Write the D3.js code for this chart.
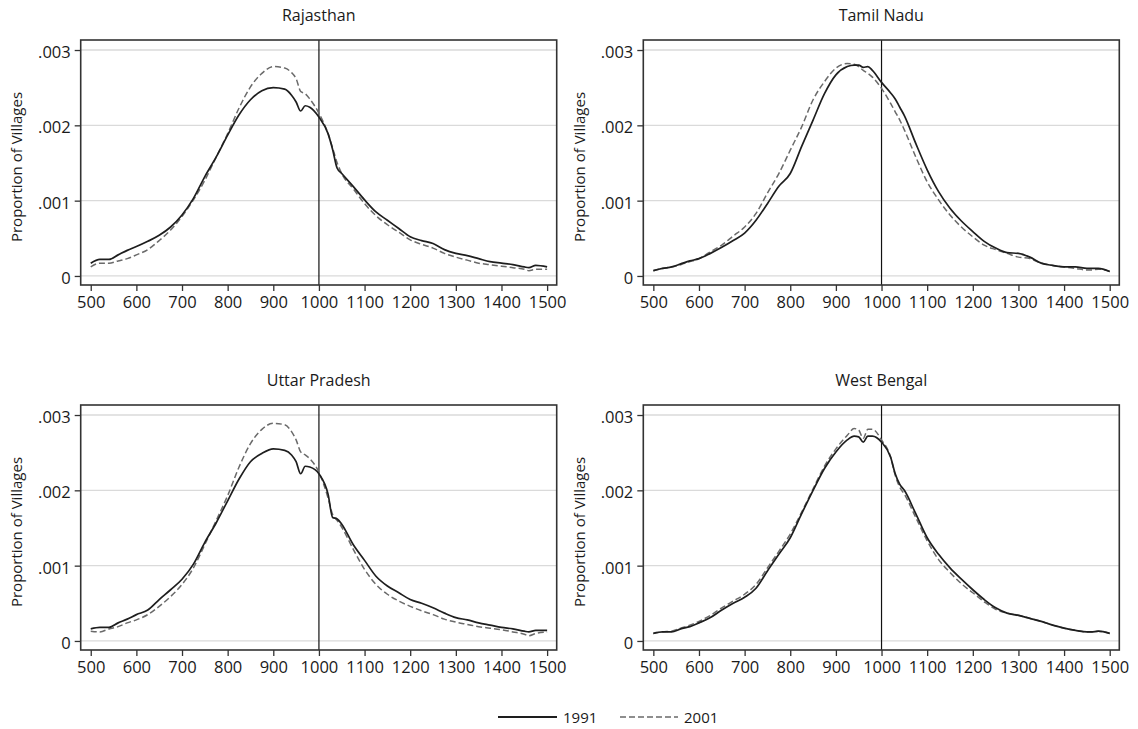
<!DOCTYPE html>
<html>
<head>
<meta charset="utf-8">
<script src="https://cdn.jsdelivr.net/npm/d3@7"></script>
<style>
  body { margin: 0; background: #fff; }
  svg { display: block; }
  text { font-family: "Open Sans", "Liberation Sans", sans-serif; fill: #1a1a1a; }
</style>
</head>
<body>
<div id="chart"></div>
<script>
// sex ratio grid (x values), shared by every panel
const sexRatio = [500, 520, 540, 560, 580, 600, 625, 650, 675, 700, 725, 750, 775, 800, 825, 850, 875, 900,
  925, 940, 950, 960, 970, 980, 1000, 1020, 1030, 1040, 1050, 1075, 1100, 1125, 1150, 1175, 1200, 1225,
  1250, 1275, 1300, 1325, 1350, 1375, 1400, 1425, 1450, 1460, 1475, 1500];

const states = ['Rajasthan', 'Tamil Nadu', 'Uttar Pradesh', 'West Bengal'];

const rajasthan1991 = [.00017, .00022, .00022, .00028, .00034, .00039, .00046, .00054, .00065, .00081, .00103, .00132,
  .00158, .00187, .00214, .00234, .00246, .00250, .00248, .00240, .00231, .00219, .00226, .00224, .00211, .00189,
  .00168, .00143, .00136, .00119, .00101, .00085, .00074, .00063, .00052, .00047, .00043, .00035, .00030, .00027,
  .00023, .00019, .00017, .00015, .00012, .00011, .00014, .00012];
const rajasthan2001 = [.00012, .00017, .00017, .00020, .00023, .00028, .00035, .00047, .00061, .00079, .00101, .00127,
  .00158, .00189, .00223, .00251, .00269, .00278, .00276, .00270, .00262, .00245, .00242, .00235, .00216, .00189,
  .00170, .00150, .00136, .00116, .00096, .00080, .00068, .00058, .00048, .00042, .00037, .00030, .00025, .00021,
  .00017, .00015, .00013, .00011, .00009, .00007, .00009, .00009];

const tamilNadu1991 = [.00007, .00010, .00012, .00016, .00020, .00023, .00030, .00038, .00047, .00057, .00074, .00096,
  .00119, .00136, .00172, .00207, .00242, .00267, .00278, .00280, .00280, .00277, .00278, .00273, .00257, .00243,
  .00235, .00224, .00213, .00176, .00141, .00112, .00090, .00073, .00059, .00046, .00037, .00031, .00030, .00025,
  .00017, .00014, .00012, .00012, .00010, .00010, .00010, .00006];
const tamilNadu2001 = [.00007, .00010, .00012, .00015, .00019, .00023, .00032, .00041, .00053, .00065, .00083, .00110,
  .00136, .00167, .00198, .00234, .00258, .00276, .00282, .00281, .00278, .00273, .00269, .00264, .00249, .00229,
  .00218, .00207, .00194, .00158, .00125, .00101, .00081, .00065, .00052, .00041, .00035, .00030, .00025, .00023,
  .00017, .00014, .00012, .00010, .00008, .00008, .00009, .00006];

const uttarPradesh1991 = [.00016, .00018, .00018, .00024, .00029, .00035, .00041, .00055, .00068, .00082, .00102, .00131,
  .00157, .00186, .00215, .00238, .00249, .00255, .00253, .00247, .00238, .00222, .00232, .00231, .00222, .00195,
  .00164, .00162, .00155, .00128, .00107, .00086, .00073, .00064, .00055, .00050, .00044, .00037, .00031, .00028,
  .00024, .00021, .00018, .00016, .00013, .00012, .00014, .00014];
const uttarPradesh2001 = [.00013, .00012, .00016, .00019, .00024, .00028, .00035, .00046, .00059, .00075, .00097, .00128,
  .00160, .00193, .00231, .00262, .00281, .00289, .00287, .00278, .00267, .00251, .00247, .00242, .00224, .00190,
  .00168, .00160, .00151, .00122, .00095, .00075, .00062, .00053, .00046, .00040, .00035, .00029, .00025, .00022,
  .00019, .00017, .00015, .00012, .00009, .00007, .00010, .00012];

const westBengal1991 = [.00010, .00012, .00012, .00016, .00019, .00024, .00031, .00041, .00050, .00058, .00070, .00093,
  .00115, .00137, .00169, .00200, .00229, .00251, .00267, .00272, .00271, .00264, .00272, .00272, .00264, .00244,
  .00222, .00208, .00200, .00169, .00137, .00115, .00097, .00082, .00068, .00055, .00044, .00037, .00034, .00030,
  .00026, .00021, .00017, .00014, .00012, .00012, .00013, .00010];
const westBengal2001 = [.00010, .00012, .00013, .00017, .00021, .00026, .00034, .00044, .00053, .00062, .00075, .00097,
  .00119, .00142, .00171, .00202, .00232, .00255, .00273, .00282, .00280, .00269, .00281, .00281, .00267, .00244,
  .00220, .00204, .00195, .00164, .00133, .00108, .00091, .00076, .00064, .00052, .00042, .00037, .00034, .00030,
  .00026, .00021, .00017, .00014, .00012, .00012, .00013, .00010];

const series1991 = [rajasthan1991, tamilNadu1991, uttarPradesh1991, westBengal1991];
const series2001 = [rajasthan2001, tamilNadu2001, uttarPradesh2001, westBengal2001];

const xTicks = [500, 600, 700, 800, 900, 1000, 1100, 1200, 1300, 1400, 1500];
const yTicks = [0, .001, .002, .003];
const legendLabels = ['1991', '2001'];

const width = 1138;
const height = 729;

// panel frames (left, top)
const panelW = 476;
const panelH = 245;
const frames = [
  { left: 80.7, top: 40 },
  { left: 643.3, top: 40 },
  { left: 80.7, top: 405 },
  { left: 643.3, top: 405 }
];

const svg = d3.select('#chart').append('svg')
  .attr('width', width)
  .attr('height', height);

const fmtY = d => d === 0 ? '0' : d3.format('.3f')(d).replace(/^0/, '');

states.forEach((name, i) => {
  const { left, top } = frames[i];
  const g = svg.append('g').attr('transform', `translate(${left},${top})`);

  const x = d3.scaleLinear().domain([478, 1521]).range([0, panelW]);
  const y = d3.scaleLinear().domain([-0.00012, 0.003133]).range([panelH, 0]);

  // gridlines
  g.selectAll('.grid')
    .data(yTicks)
    .join('line')
    .attr('x1', 0)
    .attr('x2', panelW)
    .attr('y1', d => y(d))
    .attr('y2', d => y(d))
    .attr('stroke', '#dadada')
    .attr('stroke-width', 1.3);

  // reference line at 1000
  g.append('line')
    .attr('x1', x(1000))
    .attr('x2', x(1000))
    .attr('y1', 0)
    .attr('y2', panelH)
    .attr('stroke', '#111')
    .attr('stroke-width', 1.2);

  const line = d3.line()
    .x((d, j) => x(sexRatio[j]))
    .y(d => y(d))
    .curve(d3.curveMonotoneX);

  g.append('path')
    .attr('d', line(series2001[i]))
    .attr('fill', 'none')
    .attr('stroke', '#6a6a6a')
    .attr('stroke-width', 1.5)
    .attr('stroke-dasharray', '6,3');

  g.append('path')
    .attr('d', line(series1991[i]))
    .attr('fill', 'none')
    .attr('stroke', '#1e1e1e')
    .attr('stroke-width', 1.7);

  // frame
  g.append('rect')
    .attr('width', panelW)
    .attr('height', panelH)
    .attr('fill', 'none')
    .attr('stroke', '#333')
    .attr('stroke-width', 1.6);

  const xAxis = g.append('g')
    .attr('transform', `translate(0,${panelH})`)
    .call(d3.axisBottom(x).tickValues(xTicks).tickFormat(d3.format('d')).tickSize(6).tickPadding(5));
  const yAxis = g.append('g')
    .call(d3.axisLeft(y).tickValues(yTicks).tickFormat(fmtY).tickSize(6).tickPadding(4));

  [xAxis, yAxis].forEach(ax => {
    ax.select('.domain').remove();
    ax.attr('font-family', null).attr('font-size', null);
    ax.selectAll('.tick line').attr('stroke', '#333').attr('stroke-width', 1.3);
    ax.selectAll('.tick text').style('font-size', '16.5px').attr('fill', '#1a1a1a');
  });
  yAxis.selectAll('.tick text').attr('dy', '0.45em');

  // panel title
  g.append('text')
    .attr('x', panelW / 2)
    .attr('y', -19.5)
    .attr('text-anchor', 'middle')
    .style('font-size', '16px')
    .text(name);

  // y axis title
  g.append('text')
    .attr('transform', `translate(${22 - 80.7},${127}) rotate(-90)`)
    .attr('text-anchor', 'middle')
    .style('font-size', '15px')
    .text('Proportion of Villages');
});

// legend
const legend = svg.append('g').attr('transform', 'translate(0,717)');
legend.append('line')
  .attr('x1', 498).attr('x2', 557)
  .attr('stroke', '#1e1e1e').attr('stroke-width', 1.8);
legend.append('text')
  .attr('x', 563).attr('y', 5.5)
  .style('font-size', '15px')
  .text(legendLabels[0]);
legend.append('line')
  .attr('x1', 620).attr('x2', 678)
  .attr('stroke', '#6a6a6a').attr('stroke-width', 1.5)
  .attr('stroke-dasharray', '6,3');
legend.append('text')
  .attr('x', 684).attr('y', 5.5)
  .style('font-size', '15px')
  .text(legendLabels[1]);
</script>
</body>
</html>
